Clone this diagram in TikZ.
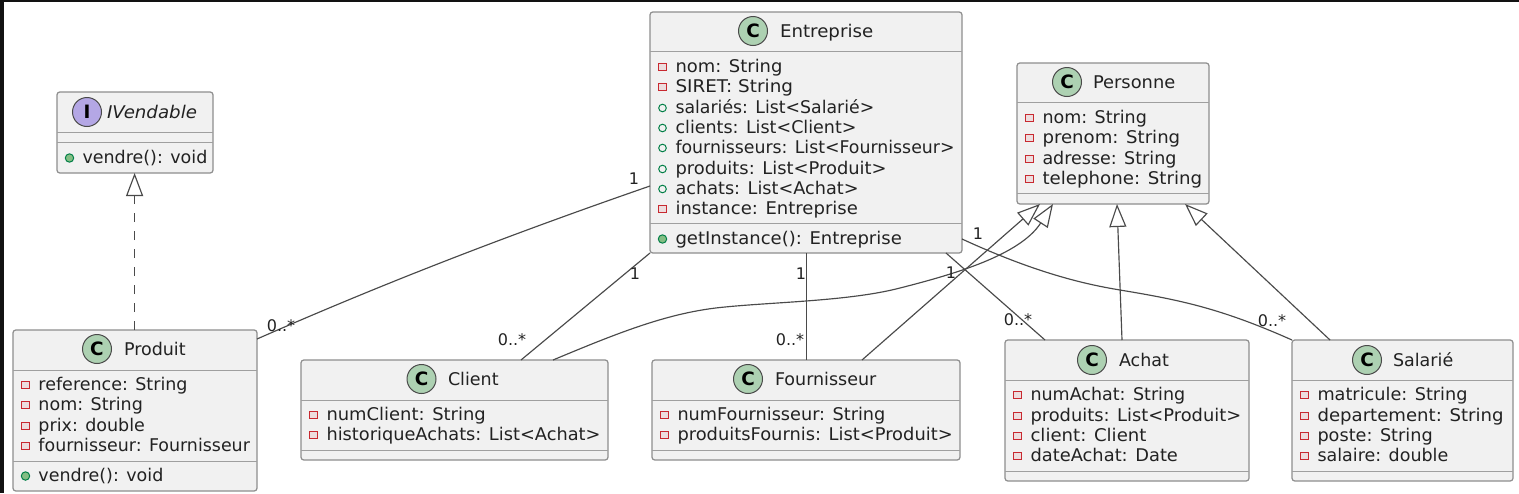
\documentclass[tikz,border=0pt]{standalone}
\usepackage{graphicx}
\usepackage{fontspec}
\setmainfont{DejaVu Sans}
\usetikzlibrary{arrows.meta,calc}
\definecolor{boxfill}{HTML}{F1F1F1}
\definecolor{boxline}{HTML}{8E8E8E}
\definecolor{wire}{HTML}{4A4A4A}
\definecolor{txt}{HTML}{222222}
\definecolor{iconC}{HTML}{ADD1B2}
\definecolor{iconI}{HTML}{B4A7E5}
\definecolor{privc}{HTML}{C82930}
\definecolor{pubc}{HTML}{038048}
\definecolor{pubf}{HTML}{84BE84}
\newcommand{\memfont}{\fontsize{8.75}{10}\selectfont}
\newcommand{\sx}[2]{\scalebox{#1}[1]{#2}}
\tikzset{
  x=0.5pt,y=-0.5pt,
  classbox/.style={draw=boxline,fill=boxfill,line width=0.6pt,rounded corners=1.4pt,inner sep=0,outer sep=0,anchor=north west},
  member/.style={anchor=base west,inner sep=0,outer sep=0,text=txt,font=\memfont},
  title/.style={member},
  badge/.style={circle,draw=wire,line width=0.5pt,minimum size=14.5pt,inner sep=0,outer sep=0,text=black,font=\fontsize{9.2}{10}\selectfont\bfseries},
  privicon/.style={draw=privc,fill=boxfill!90!privc,line width=0.5pt,minimum size=3.7pt,inner sep=0,outer sep=0},
  pubficon/.style={circle,draw=pubc,fill=boxfill,line width=0.5pt,minimum size=3.8pt,inner sep=0,outer sep=0},
  pubmicon/.style={circle,draw=pubc,fill=pubf,line width=0.5pt,minimum size=4.2pt,inner sep=0,outer sep=0},
  assoc/.style={draw=wire,line width=0.58pt},
  inherit/.style={draw=wire,line width=0.58pt,-{Triangle[open,fill=white,length=11.5pt,width=8.5pt]}},
  longdash/.style={dash pattern=on 4.3pt off 4.7pt},
  mult/.style={inner sep=0,outer sep=0,text=txt,font=\fontsize{8}{9}\selectfont},
}
\newcount\mc
\newcommand{\nextm}{\global\advance\mc by 1 }
% name x0 y0 x1 y1
\newcommand{\cbox}[5]{%
  \node[classbox,minimum width={(#4-#2)*0.5pt},minimum height={(#5-#3)*0.5pt}] (#1) at (#2,#3) {};}
\newcommand{\sepl}[3]{\draw[draw=boxline!85!white,line width=0.5pt] (#1,#3+0.3) -- (#2,#3+0.3);}
% x y text  (text start x, baseline y)
\newcommand{\priv}[3]{\nextm\node[privicon] (i\the\mc) at (#1-12.5,#2-5) {};\node[member] (t\the\mc) at (#1+0.5,#2) {#3};}
\newcommand{\pubf}[3]{\nextm\node[pubficon] (i\the\mc) at (#1-12.5,#2-5) {};\node[member] (t\the\mc) at (#1+0.5,#2) {#3};}
\newcommand{\pubm}[3]{\nextm\node[pubmicon] (i\the\mc) at (#1-12.5,#2-5) {};\node[member] (t\the\mc) at (#1+0.5,#2) {#3};}
% circle cx cy letter colour ; title x baseline text
\newcommand{\head}[6]{\nextm\node[badge,fill=#4] (b\the\mc) at (#1,#2) {#3};\node[title] (h\the\mc) at (#5,#2+6) {#6};}
\begin{document}
\begin{tikzpicture}
\useasboundingbox (0,0) rectangle (1519,493);
\fill[white] (0,0) rectangle (1519,493);
\fill[black!93] (0,0) rectangle (1519,2);
\fill[black!93] (0,0) rectangle (4,493);

% connector coordinates
\coordinate (eP) at (650,186);
\coordinate (pE) at (257,339);
\coordinate (eC) at (650,253);
\coordinate (cE) at (521,360);
\coordinate (eF) at (806.4,253);
\coordinate (fE) at (806.4,360);
\coordinate (eA) at (946,253);
\coordinate (aE) at (1045,340);
\coordinate (eS) at (962,239);
\coordinate (sE) at (1292,340);
\coordinate (cP) at (553,360);
\coordinate (pC) at (1053,204);
\coordinate (fP) at (862,360);
\coordinate (pF) at (1040,204);
\coordinate (aP) at (1122,340);
\coordinate (pA) at (1117,204);
\coordinate (sP) at (1330,340);
\coordinate (pS) at (1185,204);
\coordinate (prI) at (134.6,330);
\coordinate (iPr) at (134.6,173);

% boxes
\cbox{IVendable}{57}{92}{213}{173}
\sepl{57}{213}{132}\sepl{57}{213}{142}
\head{87}{112}{I}{iconI}{107}{\sx{1.04}{\itshape IVendable}}
\pubm{82}{163}{vendre(): void}

\cbox{Entreprise}{650}{12}{962}{253}
\sepl{650}{962}{51}\sepl{650}{962}{223}
\head{753}{31}{C}{iconC}{780}{\sx{1.04}{Entreprise}}
\priv{675}{72}{\sx{1.025}{nom: String}}
\priv{675}{92}{\sx{1.05}{SIRET: String}}
\pubf{675}{113}{\sx{0.99}{salariés: List<Salarié>}}
\pubf{675}{133}{clients: List<Client>}
\pubf{675}{153}{\sx{0.99}{fournisseurs: List<Fournisseur>}}
\pubf{675}{174}{\sx{1.022}{produits: List<Produit>}}
\pubf{675}{194}{\sx{1.01}{achats: List<Achat>}}
\priv{675}{214}{\sx{1.03}{instance: Entreprise}}
\pubm{675}{244}{\sx{1.03}{getInstance(): Entreprise}}

\cbox{Personne}{1017}{63}{1209}{204}
\sepl{1017}{1209}{102}\sepl{1017}{1209}{193}
\head{1067}{82}{C}{iconC}{1093}{\sx{1.02}{Personne}}
\priv{1042}{123}{nom: String}
\priv{1042}{143}{\sx{1.035}{prenom: String}}
\priv{1042}{164}{adresse: String}
\priv{1042}{184}{\sx{1.04}{telephone: String}}

\cbox{Produit}{13}{330}{257}{491}
\sepl{13}{257}{370}\sepl{13}{257}{461}
\head{97}{349}{C}{iconC}{124}{Produit}
\priv{38}{390}{reference: String}
\priv{38}{410}{nom: String}
\priv{38}{431}{prix: double}
\priv{38}{451}{\sx{0.995}{fournisseur: Fournisseur}}
\pubm{38}{481}{vendre(): void}

\cbox{Client}{301}{360}{608}{460}
\sepl{301}{608}{400}\sepl{301}{608}{450}
\head{421.5}{379}{C}{iconC}{448}{Client}
\priv{326}{420}{\sx{1.025}{numClient: String}}
\priv{326}{440}{\sx{1.015}{historiqueAchats: List<Achat>}}

\cbox{Fournisseur}{652}{360}{960}{460}
\sepl{652}{960}{400}\sepl{652}{960}{450}
\head{748}{379}{C}{iconC}{775}{Fournisseur}
\priv{677}{420}{\sx{1.01}{numFournisseur: String}}
\priv{677}{440}{\sx{1.02}{produitsFournis: List<Produit>}}

\cbox{Achat}{1005}{340}{1249}{481}
\sepl{1005}{1249}{380}\sepl{1005}{1249}{471}
\head{1092}{360}{C}{iconC}{1119}{Achat}
\priv{1030}{400}{numAchat: String}
\priv{1030}{421}{\sx{1.02}{produits: List<Produit>}}
\priv{1030}{441}{\sx{1.035}{client: Client}}
\priv{1030}{461}{\sx{1.02}{dateAchat: Date}}

\cbox{Salarie}{1292}{340}{1513}{481}
\sepl{1292}{1513}{380}\sepl{1292}{1513}{471}
\head{1367}{360}{C}{iconC}{1393}{Salarié}
\priv{1317}{400}{\sx{1.01}{matricule: String}}
\priv{1317}{421}{\sx{1.035}{departement: String}}
\priv{1317}{441}{\sx{1.01}{poste: String}}
\priv{1317}{461}{salaire: double}

% connectors
\draw[inherit,longdash] (prI) -- (iPr);
\draw[assoc] (eP) .. controls (500,238) and (380,285) .. (pE);
\draw[assoc] (eC) -- (cE);
\draw[assoc] (eF) -- (fE);
\draw[assoc] (eA) -- (aE);
\draw[assoc] (eS) .. controls (1040,275) and (1090,285) .. (1120,290) .. controls (1180,300) and (1220,308) .. (sE);
\draw[inherit] (cP) .. controls (620,332) and (670,312) .. (725,307) .. controls (775,302) and (850,301) .. (900,288) .. controls (955,274) and (1020,255) .. (pC);
\draw[inherit] (fP) -- (pF);
\draw[inherit] (aP) -- (pA);
\draw[inherit] (sP) -- (pS);

% multiplicities
\node[mult] (m1) at (634,179) {1};
\node[mult] (m2) at (281,326) {0..*};
\node[mult] (m3) at (635,274) {1};
\node[mult] (m4) at (512,340) {0..*};
\node[mult] (m5) at (801,274) {1};
\node[mult] (m6) at (790,340) {0..*};
\node[mult] (m7) at (951,273) {1};
\node[mult] (m8) at (1018,320) {0..*};
\node[mult] (m9) at (978,234) {1};
\node[mult] (m10) at (1272,321) {0..*};
\end{tikzpicture}
\end{document}
